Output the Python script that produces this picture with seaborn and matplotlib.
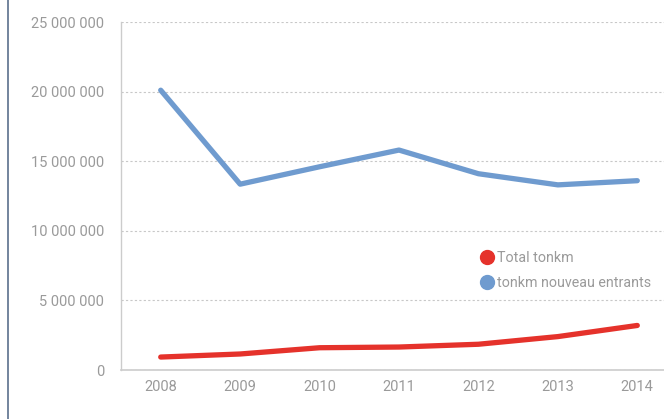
import matplotlib
matplotlib.use("Agg")
import matplotlib.pyplot as plt
import seaborn as sns
import pandas as pd
from matplotlib.lines import Line2D
from matplotlib.ticker import FuncFormatter

years = ["2008", "2009", "2010", "2011", "2012", "2013", "2014"]
total_tonkm = [930000, 1150000, 1600000, 1650000, 1850000, 2400000, 3200000]
nouveaux = [20100000, 13350000, 14600000, 15800000, 14100000, 13300000, 13600000]
series_names = ["Total tonkm", "tonkm nouveau entrants"]
yticks = [0, 5000000, 10000000, 15000000, 20000000, 25000000]

sns.set_theme(style="white")
plt.rcParams['font.family'] = ['Roboto', 'DejaVu Sans']

df = pd.DataFrame({
    "year": years * 2,
    "value": total_tonkm + nouveaux,
    "series": [series_names[0]] * len(years) + [series_names[1]] * len(years),
})

colors = {series_names[0]: "#E5322B", series_names[1]: "#6F9BCF"}

fig = plt.figure(figsize=(6.64, 4.19), dpi=100)
ax = fig.add_axes([121 / 664, 49 / 419, 556 / 664, 348 / 419])
sns.lineplot(data=df, x="year", y="value", hue="series", palette=colors,
             linewidth=3.8, ax=ax, legend=False, sort=False)

ax.set_xlim(-0.5, 6.5)
ax.set_ylim(0, 25000000)
ax.set_yticks(yticks)
ax.yaxis.set_major_formatter(FuncFormatter(lambda v, p: f"{int(v):,}".replace(",", " ")))
ax.grid(axis="y", color="#c8c8c8", linestyle=(0, (2, 2)), linewidth=0.8)
ax.set_axisbelow(True)
for s in ["top", "right"]:
    ax.spines[s].set_visible(False)
ax.spines["left"].set_color("#cccccc")
ax.spines["bottom"].set_color("#cccccc")
ax.spines["left"].set_linewidth(1)
ax.spines["bottom"].set_linewidth(1.2)
ax.tick_params(axis="both", colors="#9a9a9a", labelsize=10.5, length=0)
ax.tick_params(axis="y", pad=12)
ax.tick_params(axis="x", pad=7)
ax.set_xlabel("")
ax.set_ylabel("")

handles = [Line2D([0], [0], marker="o", linestyle="", markersize=10,
                  markerfacecolor=colors[n], markeredgecolor=colors[n]) for n in series_names]
leg = ax.legend(handles, series_names, loc="upper left", bbox_to_anchor=(350 / 556, 126 / 348),
                frameon=False, handletextpad=0.15, labelspacing=0.75, fontsize=10.3,
                borderpad=0, handlelength=1.2)
for t in leg.get_texts():
    t.set_color("#9a9a9a")

fig.add_artist(Line2D([7.5 / 664, 7.5 / 664], [0, 1], transform=fig.transFigure,
                      color="#5b6f8c", linewidth=1.2))

fig.savefig("out.png", dpi=100)
